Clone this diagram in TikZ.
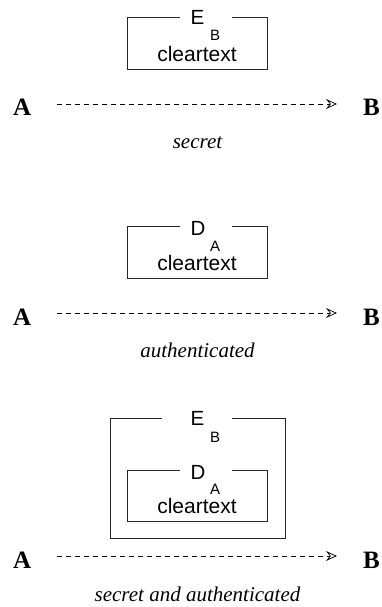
\documentclass[tikz,border=0pt]{standalone}
\usepackage{fontspec}
\setmainfont{Liberation Serif}
\newfontfamily\boxsans{Liberation Sans}
\usetikzlibrary{arrows.meta}
\tikzset{
  party/.style={inner sep=0pt, font=\fontsize{25}{25}\selectfont\bfseries},
  caption/.style={inner sep=0pt, anchor=base, font=\fontsize{21}{21}\selectfont\itshape},
  opname/.style={inner sep=0pt, anchor=base, font=\boxsans\fontsize{20.5}{20.5}\selectfont},
  opsub/.style={inner sep=0pt, anchor=base, font=\boxsans\fontsize{15}{15}\selectfont},
  ctext/.style={inner sep=0pt, anchor=base, font=\boxsans\fontsize{21}{21}\selectfont},
  boxline/.style={draw=black!85, line width=0.9pt},
  msg/.style={draw=black, line width=0.75pt, dash pattern=on 5pt off 4pt,
    -{Stealth[open, length=11pt, width=10pt, inset=4pt]}}
}
\begin{document}
\begin{tikzpicture}[x=1pt,y=-1pt]
\useasboundingbox (0,0) rectangle (381,607);

% ---------- panel 1: secret ----------
\draw[boxline] (180,17.4) -- (127,17.4) -- (127,69.5) -- (267,69.5) -- (267,17.4) -- (232,17.4);
\node[opname] (E1) at (197.5,25) {E};
\node[opsub] (Eb1) at (215,40.5) {B};
\node[ctext] (ct1) at (197,62) {cleartext};
\node[party, anchor=base west] (A1) at (13,116) {A};
\node[party, anchor=base east] (B1) at (380,116) {B};
\draw[msg] ([xshift=26pt,yshift=12pt]A1.base east) -- ([xshift=-26pt,yshift=12pt]B1.base west);
\node[caption] (c1) at (197.5,148) {secret};

% ---------- panel 2: authenticated ----------
\draw[boxline] (180,226) -- (127,226) -- (127,278) -- (267,278) -- (267,226) -- (232,226);
\node[opname] (D2) at (198,235.5) {D};
\node[opsub] (Da2) at (215,251) {A};
\node[ctext] (ct2) at (197,270) {cleartext};
\node[party, anchor=base west] (A2) at (13,325) {A};
\node[party, anchor=base east] (B2) at (380,325) {B};
\draw[msg] ([xshift=26pt,yshift=12pt]A2.base east) -- ([xshift=-26pt,yshift=12pt]B2.base west);
\node[caption] (c2) at (197.5,357) {authenticated};

% ---------- panel 3: secret and authenticated ----------
\draw[boxline] (162,418) -- (110,418) -- (110,538.6) -- (285,538.6) -- (285,418) -- (232,418);
\node[opname] (E3) at (197.5,425) {E};
\node[opsub] (Eb3) at (215,442) {B};
\draw[boxline] (180,470) -- (127,470) -- (127,521) -- (267,521) -- (267,470) -- (232,470);
\node[opname] (D3) at (198,479) {D};
\node[opsub] (Da3) at (215,494) {A};
\node[ctext] (ct3) at (197,513.5) {cleartext};
\node[party, anchor=base west] (A3) at (13,568) {A};
\node[party, anchor=base east] (B3) at (380,568) {B};
\draw[msg] ([xshift=26pt,yshift=12pt]A3.base east) -- ([xshift=-26pt,yshift=12pt]B3.base west);
\node[caption] (c3) at (197.5,601) {secret and authenticated};
\end{tikzpicture}
\end{document}
